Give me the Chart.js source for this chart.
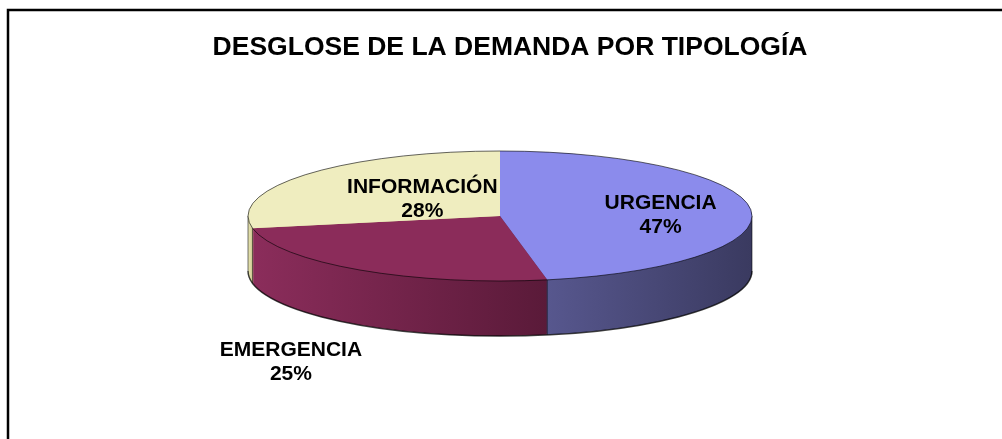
<!DOCTYPE html>
<html>
<head>
<meta charset="utf-8">
<title>Desglose de la demanda por tipología</title>
<script src="https://cdn.jsdelivr.net/npm/chart.js@4"></script>
<style>
    html, body { margin: 0; padding: 0; background: #fff; }
    #wrap { width: 1002px; height: 439px; }
</style>
</head>
<body>
<div id="wrap"><canvas id="pieChart" width="1002" height="439"></canvas></div>
<script>
// ========================================
// Data
// ========================================
const chartTitle = 'DESGLOSE DE LA DEMANDA POR TIPOLOGÍA';
const categories = ['URGENCIA', 'EMERGENCIA', 'INFORMACIÓN'];
const demandShare = [47, 25, 28];

// top face colours and side wall gradient (light -> dark)
const topColors = ['#8b8bec', '#8b2c5a', '#efedbf'];
const sideColors = [['#57578e', '#3a3a60'], ['#8b2d5b', '#5a1a39'], ['#e8e5b2', '#cfcb94']];

const FONT = "'Liberation Sans', Arial, Helvetica, sans-serif";

// ========================================
// 3D pie helpers
// ========================================
function drawArcWith(arc, ctx, fill) {
    const saved = arc.options;
    arc.options = Object.assign(Object.create(saved), { backgroundColor: fill, borderWidth: 0 });
    arc.draw(ctx);
    arc.options = saved;
}

// x-range of the front (visible) part of a slice wall
function frontRange(arc, R) {
    let min = Infinity, max = -Infinity;
    const steps = 120;
    for (let k = 0; k <= steps; k++) {
        const a = arc.startAngle + (arc.endAngle - arc.startAngle) * k / steps;
        if (Math.sin(a) < -0.001) continue;
        const px = Math.cos(a) * R;
        min = Math.min(min, px);
        max = Math.max(max, px);
    }
    if (min === Infinity) return [-R, R];
    return [min, max];
}

const pie3d = {
    id: 'pie3d',
    beforeDraw(chart) {
        const ctx = chart.ctx;
        ctx.save();
        ctx.fillStyle = '#fff';
        ctx.fillRect(0, 0, chart.width, chart.height);
        // frame (left + top, runs off the picture)
        ctx.strokeStyle = '#000';
        ctx.lineWidth = 2.5;
        ctx.beginPath();
        ctx.moveTo(8, chart.height + 5);
        ctx.lineTo(8, 10);
        ctx.lineTo(chart.width + 5, 10);
        ctx.stroke();
        ctx.restore();
    },
    beforeDatasetsDraw(chart, args, opts) {
        const ctx = chart.ctx;
        const arcs = chart.getDatasetMeta(0).data;
        if (!arcs.length) return;
        const { x, y, outerRadius: R } = arcs[0];
        const cx = opts.centerX, cy = opts.centerY, t = opts.tilt, depth = opts.depth;

        // side wall gradients (horizontal shading)
        const grads = arcs.map((arc, i) => {
            const [x0, x1] = frontRange(arc, R);
            const g = ctx.createLinearGradient(x + x0, 0, x + x1 + 0.1, 0);
            g.addColorStop(0, sideColors[i][0]);
            g.addColorStop(1, sideColors[i][1]);
            return g;
        });

        for (let d = depth; d >= 1; d--) {
            ctx.save();
            ctx.translate(cx, cy + d);
            ctx.scale(1, t);
            ctx.translate(-x, -y);
            arcs.forEach((arc, i) => drawArcWith(arc, ctx, grads[i]));
            ctx.restore();
        }

        // wall edges
        ctx.save();
        ctx.strokeStyle = 'rgba(0,0,0,0.75)';
        ctx.lineWidth = 1.5;
        ctx.beginPath();
        ctx.ellipse(cx, cy + depth, R, R * t, 0, 0, Math.PI);
        ctx.stroke();
        ctx.lineWidth = 1;
        ctx.strokeStyle = 'rgba(0,0,0,0.55)';
        ctx.beginPath();
        ctx.moveTo(cx + R, cy);
        ctx.lineTo(cx + R, cy + depth);
        ctx.moveTo(cx - R, cy);
        ctx.lineTo(cx - R, cy + depth);
        arcs.forEach(arc => {
            const a = arc.startAngle;
            if (Math.sin(a) > 0) {
                const px = cx + R * Math.cos(a), py = cy + R * t * Math.sin(a);
                ctx.moveTo(px, py);
                ctx.lineTo(px, py + depth);
            }
        });
        ctx.stroke();
        ctx.restore();

        // squash the top face drawn by Chart.js
        ctx.save();
        ctx.translate(cx, cy);
        ctx.scale(1, t);
        ctx.translate(-x, -y);
    },
    afterDatasetsDraw(chart, args, opts) {
        const ctx = chart.ctx;
        ctx.restore();
        const arcs = chart.getDatasetMeta(0).data;
        if (!arcs.length) return;
        const R = arcs[0].outerRadius;
        const cx = opts.centerX, cy = opts.centerY, t = opts.tilt;

        // top outline
        ctx.save();
        ctx.strokeStyle = 'rgba(0,0,0,0.6)';
        ctx.lineWidth = 1;
        ctx.beginPath();
        ctx.ellipse(cx, cy, R, R * t, 0, 0, Math.PI * 2);
        ctx.stroke();

        // labels
        const values = chart.data.datasets[0].data;
        const total = values.reduce((s, v) => s + v, 0);
        ctx.fillStyle = '#000';
        ctx.font = 'bold 21px ' + FONT;
        ctx.textAlign = 'center';
        ctx.textBaseline = 'middle';
        arcs.forEach((arc, i) => {
            const pos = opts.labels[i];
            const mid = (arc.startAngle + arc.endAngle) / 2;
            const lx = cx + R * pos.r * Math.cos(mid);
            const ly = cy + R * t * pos.r * Math.sin(mid) + (pos.dy || 0);
            ctx.fillText(chart.data.labels[i], lx, ly - 12);
            ctx.fillText(Math.round(values[i] / total * 100) + '%', lx, ly + 12);
        });
        ctx.restore();
    }
};

// ========================================
// Chart
// ========================================
new Chart(document.getElementById('pieChart'), {
    type: 'pie',
    data: {
        labels: categories,
        datasets: [{
            data: demandShare,
            backgroundColor: topColors,
            borderWidth: 0,
            radius: 252,
            clip: false
        }]
    },
    options: {
        responsive: false,
        animation: false,
        events: [],
        layout: { padding: { left: 18, right: 0, top: 0, bottom: 0 } },
        plugins: {
            legend: { display: false },
            tooltip: { enabled: false },
            title: {
                display: true,
                text: chartTitle,
                color: '#000',
                font: { family: FONT, size: 26.5, weight: 'bold' },
                padding: { top: 32, bottom: 10 }
            },
            pie3d: {
                centerX: 500,
                centerY: 216,
                tilt: 65 / 252,
                depth: 55,
                labels: [{ r: 0.64, dy: 3 }, { r: 1.476, dy: 67 }, { r: 0.40 }]
            }
        }
    },
    plugins: [pie3d]
});
</script>
</body>
</html>
